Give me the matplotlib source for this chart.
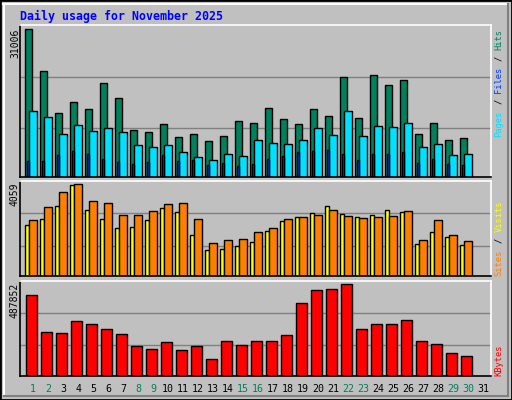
import matplotlib
matplotlib.use("Agg")
import matplotlib.pyplot as plt
from matplotlib.patches import Rectangle
from matplotlib.lines import Line2D

days = list(range(1, 32))
hits = [31006, 22238, 13329, 15643, 14240, 19642, 16485, 9751, 9330, 11014, 8278, 8909, 7436, 8488, 11645,
        11224, 14381, 12066, 11014, 14170, 12697, 20905, 12276, 21326, 19221, 20273, 8909, 11224, 7646, 8067]
pages = [13749, 12487, 8909, 10803, 9540, 10172, 9330, 6594, 6173, 6594, 5121, 4069, 3437, 4700, 4279,
         7646, 7015, 6805, 7646, 10172, 8699, 13749, 8488, 10593, 10382, 11224, 6173, 6805, 4490, 4700]
files = [3227, 3227, 4490, 5331, 4700, 3648, 3016, 2596, 3016, 4490, 3227, 3437, 2385, 2806, 2175,
         2596, 3648, 4279, 5121, 5331, 5542, 4700, 3437, 4700, 4700, 5121, 2806, 3648, 2596, 2385]
visits = [2250, 2515, 3089, 4015, 2912, 2515, 2118, 2162, 2471, 3000, 2824, 1809, 1147, 1191, 1324,
          1500, 1986, 2427, 2603, 2780, 3089, 2736, 2603, 2692, 2912, 2824, 1412, 1941, 1721, 1368]
sites = [2471, 3045, 3707, 4059, 3310, 3221, 2692, 2692, 2868, 3177, 3221, 2515, 1456, 1589, 1633,
         1941, 2118, 2515, 2603, 2692, 2912, 2648, 2559, 2603, 2648, 2868, 1589, 2471, 1809, 1545]
kbytes = [427534, 230620, 225298, 289162, 273196, 246586, 219976, 156112, 140146, 177400, 134824, 156112,
          86926, 182722, 161434, 182722, 182722, 214654, 384958, 454144, 459466, 487852, 246586, 273196,
          273196, 294484, 182722, 166756, 118858, 102892]
weekend = [1, 2, 8, 9, 15, 16, 22, 23, 29, 30]

W, H = 512, 400
BG = "#C0C0C0"
fig = plt.figure(figsize=(W/100, H/100), dpi=100, facecolor=BG)
MONO = "DejaVu Sans Mono"

def fx(px): return px / W
def fy(py): return 1 - py / H

fig.patches.append(Rectangle((0, 0), 1, 1, transform=fig.transFigure, fill=False, ec="black", lw=2))
fig.add_artist(Line2D([fx(3), fx(508)], [fy(4), fy(4)], color="white", lw=1.5))
fig.add_artist(Line2D([fx(4), fx(4)], [fy(4), fy(396)], color="white", lw=1.5))
fig.add_artist(Line2D([fx(4), fx(508)], [fy(396), fy(396)], color="#808080", lw=1.5))
fig.add_artist(Line2D([fx(508), fx(508)], [fy(4), fy(396)], color="#808080", lw=1.5))

L, R = 20.3, 490.7
def make_ax(top, bottom):
    ax = fig.add_axes([fx(L), fy(bottom), fx(R) - fx(L), (bottom - top) / H])
    ax.set_facecolor(BG)
    ax.set_xlim(0, 31.36)
    for s in ["left", "bottom"]:
        ax.spines[s].set_color("black")
    for s in ["top", "right"]:
        ax.spines[s].set_color("white")
    for sp in ax.spines.values():
        sp.set_linewidth(1.2)
    ax.set_xticks([]); ax.set_yticks([])
    for f in (0.66, 0.32):
        ax.plot([0, 1], [f, f], transform=ax.transAxes, color="#808080", lw=1, zorder=0)
    return ax

def bars(ax, vals, off, w, color):
    n = len(vals)
    xs = [d - 1 + 0.33 + off for d in days[:n]]
    ax.bar(xs, vals, width=w, align="edge", color=color, edgecolor="black", linewidth=1, zorder=2)

ax1 = make_ax(25, 176.7)
ax1.set_ylim(0, max(hits) * 151.7 / 147.4)
bars(ax1, hits, 0.0, 0.467, "#00805c")
bars(ax1, pages, 0.267, 0.493, "#00e0ff")
bars(ax1, files, 0.133, 0.15, "#0040ff")

ax2 = make_ax(180.7, 276.3)
ax2.set_ylim(0, max(sites) * 287 / 276)
bars(ax2, visits, 0.0, 0.27, "#ffff00")
bars(ax2, sites, 0.27, 0.49, "#ff8000")

ax3 = make_ax(280.7, 375.7)
ax3.set_ylim(0, max(kbytes) * 285 / 275)
bars(ax3, kbytes, 0.067, 0.693, "#ff0000")

fig.text(fx(20), fy(16), "Daily usage for November 2025", color="#0000ff", family=MONO,
         weight="bold", fontsize=8.4, va="center", ha="left")

for val, ytop in ((max(hits), 29), (max(sites), 183), (max(kbytes), 283)):
    fig.text(fx(15), fy(ytop), str(val), rotation=90, family=MONO, fontsize=7,
             va="top", ha="center", color="black")

for d in days:
    xp = L + (d - 1 + 0.33 + 0.53) * 15
    fig.text(fx(xp), fy(389), str(d), family=MONO, fontsize=7.2, ha="center", va="center",
             color="#00805c" if d in weekend else "black")

def vlegend(pieces, ybottom):
    cw = 5.45
    y = ybottom
    for txt, col in pieces:
        n = len(txt)
        if txt.strip() != txt:
            t = txt.strip()
            fig.text(fx(499), fy(y - cw * n / 2), t, rotation=90, family=MONO, fontsize=6.3,
                     color=col, ha="center", va="center")
        else:
            fig.text(fx(499), fy(y), txt, rotation=90, family=MONO, fontsize=6.3, color=col,
                     ha="center", va="bottom")
        y -= cw * n

vlegend([("Pages", "#00e0ff"), (" / ", "black"), ("Files", "#0040ff"), (" / ", "black"),
         ("Hits", "#00805c")], 137)
vlegend([("Sites", "#ff8000"), (" / ", "black"), ("Visits", "#ffff00")], 276)
vlegend([("KBytes", "#ff0000")], 376)

fig.savefig("out.png", dpi=100, facecolor=BG)
